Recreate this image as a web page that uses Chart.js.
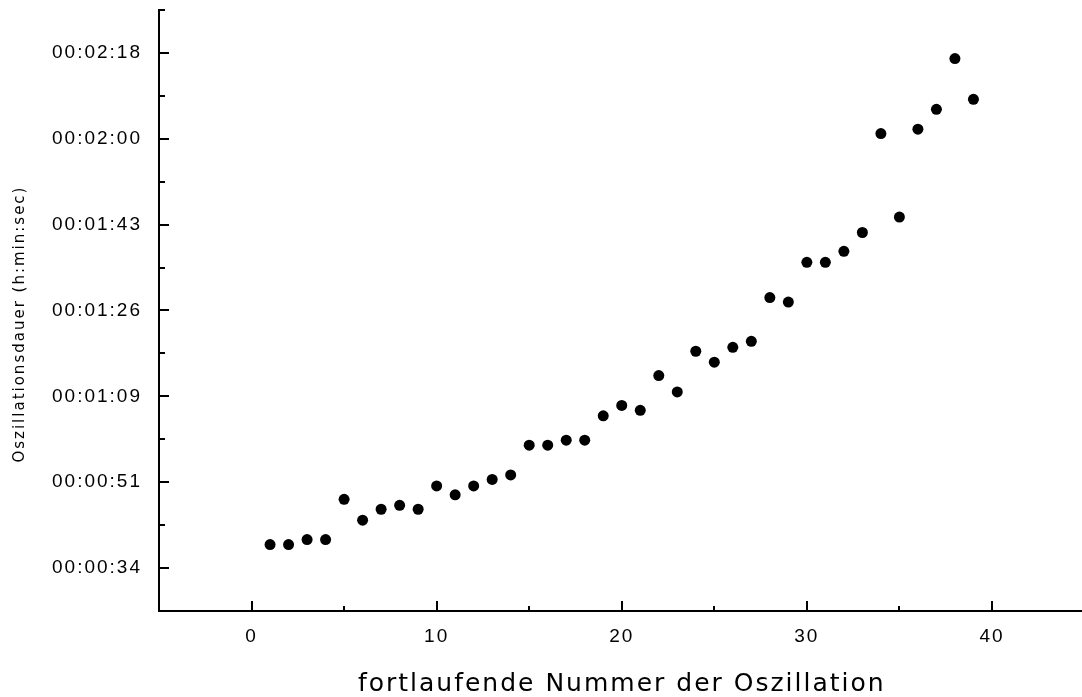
<!DOCTYPE html>
<html>
<head>
<meta charset="utf-8">
<title>Oszillationsdauer</title>
<script src="https://cdn.jsdelivr.net/npm/chart.js@4.4.1/dist/chart.umd.min.js"></script>
<style>
    html, body { margin: 0; padding: 0; background: #fff; overflow: hidden; }
    #wrap { position: relative; width: 1090px; height: 697px; }
</style>
</head>
<body>
<div id="wrap"><canvas id="oscChart"></canvas></div>
<script>
// laufende Nummer der Oszillation und gemessene Dauer in Sekunden
const oscNumber = [
    1, 2, 3, 4, 5, 6, 7, 8, 9, 10,
    11, 12, 13, 14, 15, 16, 17, 18, 19, 20,
    21, 22, 23, 24, 25, 26, 27, 28, 29, 30,
    31, 32, 33, 34, 35, 36, 37, 38, 39,
];
const durationSec = [
    39.3, 39.3, 40.3, 40.3, 48.4, 44.2, 46.4, 47.2, 46.4, 51.1,
    49.3, 51.1, 52.4, 53.3, 59.3, 59.3, 60.3, 60.3, 65.2, 67.3,
    66.3, 73.3, 70.0, 78.2, 76.0, 79.0, 80.2, 89.0, 88.1, 96.1,
    96.1, 98.3, 102.1, 122.0, 105.2, 122.9, 126.9, 137.1, 128.9,
];

// Achsen: x in Nummern, y in Sekunden (Raster 0.0002 Tage = 17.28 s)
const xTicks = [0, 10, 20, 30, 40];
const yTicks = [34.56, 51.84, 69.12, 86.4, 103.68, 120.96, 138.24];
const xMin = -5, xMax = 45;
const yMin = 25.92, yMax = 146.88;

const hms = (s) => {
    s = Math.floor(s);
    const h = Math.floor(s / 3600);
    const m = Math.floor((s % 3600) / 60);
    return [h, m, s % 60].map((n) => String(n).padStart(2, "0")).join(":");
};

// tick marks point into the plot, majors long, minors short
const insideTicks = {
    id: "insideTicks",
    beforeLayout(chart) {
        chart.ctx.letterSpacing = "2px";
    },
    beforeDraw(chart) {
        chart.ctx.letterSpacing = "2px";
    },
    afterDraw(chart) {
        const { ctx, chartArea, scales: { x, y } } = chart;
        ctx.save();
        ctx.strokeStyle = "#000";
        ctx.lineWidth = 2;
        ctx.beginPath();
        for (let v = xMin + 5; v < xMax; v += 5) {
            const px = Math.round(x.getPixelForValue(v));
            const len = v % 10 === 0 ? 10 : 5;
            ctx.moveTo(px, chartArea.bottom);
            ctx.lineTo(px, chartArea.bottom - len);
        }
        const step = yTicks[1] - yTicks[0];
        yTicks.forEach((v) => {
            const major = Math.round(y.getPixelForValue(v));
            ctx.moveTo(chartArea.left, major);
            ctx.lineTo(chartArea.left + 10, major);
            const minor = Math.round(y.getPixelForValue(v + step / 2));
            ctx.moveTo(chartArea.left, minor);
            ctx.lineTo(chartArea.left + 6, minor);
        });
        ctx.stroke();
        ctx.restore();
    },
};

const tickFont = { family: "'Liberation Sans', Arial, sans-serif", size: 19 };

new Chart(document.getElementById("oscChart"), {
    type: "scatter",
    data: {
        datasets: [
            {
                data: oscNumber.map((n, i) => ({ x: n, y: durationSec[i] })),
                backgroundColor: "#000",
                borderWidth: 0,
                pointRadius: 5.5,
                pointHoverRadius: 5.5,
            },
        ],
    },
    options: {
        responsive: true,
        maintainAspectRatio: false,
        animation: false,
        layout: { padding: { top: 10, right: 1, left: 0, bottom: 0 } },
        plugins: {
            legend: { display: false },
            tooltip: { enabled: false },
        },
        scales: {
            x: {
                type: "linear",
                min: xMin,
                max: xMax,
                grid: { display: false, drawTicks: false },
                border: { display: true, color: "#000", width: 2 },
                ticks: { color: "#000", font: tickFont, padding: 14, maxRotation: 0 },
                afterBuildTicks: (s) => {
                    s.ticks = xTicks.map((v) => ({ value: v }));
                },
                afterFit: (s) => {
                    s.height = 86;
                    s.paddingLeft = 0;
                    s.paddingRight = 0;
                },
                title: {
                    display: true,
                    text: "fortlaufende Nummer der Oszillation",
                    color: "#000",
                    font: { family: "'DejaVu Sans', sans-serif", size: 25 },
                    padding: { top: 0, bottom: -2 },
                },
            },
            y: {
                type: "linear",
                min: yMin,
                max: yMax,
                grid: { display: false, drawTicks: false },
                border: { display: true, color: "#000", width: 2 },
                ticks: {
                    color: "#000",
                    font: tickFont,
                    padding: 17,
                    callback: (v) => hms(v),
                },
                afterBuildTicks: (s) => {
                    s.ticks = yTicks.map((v) => ({ value: v }));
                },
                afterFit: (s) => {
                    s.width = 159;
                    s.paddingTop = 0;
                    s.paddingBottom = 0;
                },
                title: {
                    display: true,
                    text: "Oszillationsdauer (h:min:sec)    ",
                    color: "#000",
                    font: { family: "'DejaVu Sans', sans-serif", size: 15 },
                    padding: { top: 11, bottom: 0 },
                },
            },
        },
    },
    plugins: [insideTicks],
});
</script>
</body>
</html>
